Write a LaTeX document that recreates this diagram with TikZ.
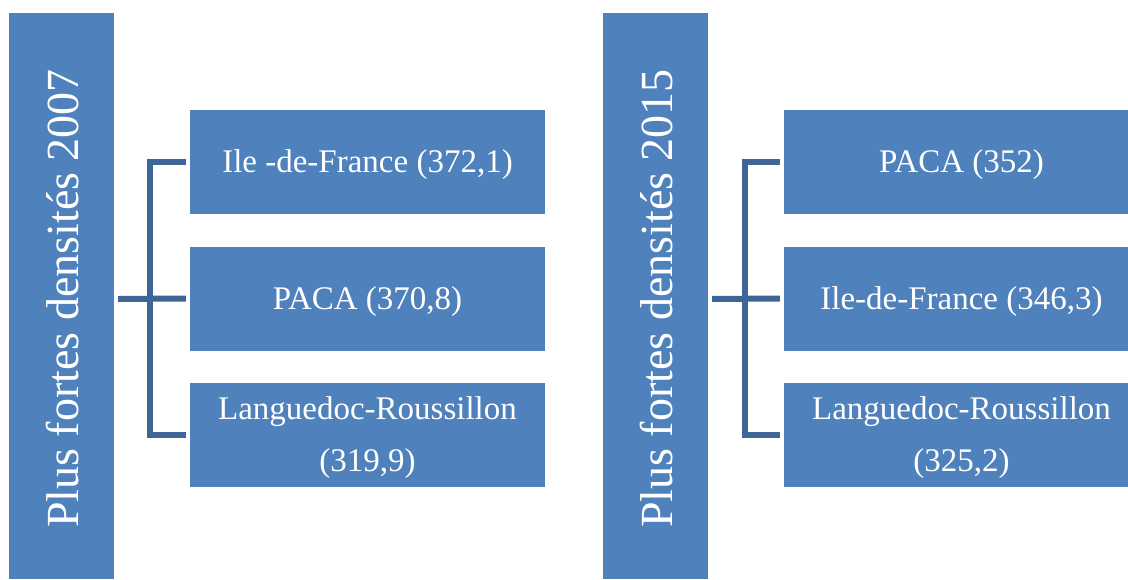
\documentclass[tikz,border=0pt]{standalone}
\usepackage{fontspec}
\setmainfont{Liberation Serif}
\definecolor{boxblue}{HTML}{4F81BD}
\definecolor{linkblue}{HTML}{3D6596}
\begin{document}
\begin{tikzpicture}[x=1pt,y=-1pt,
  tall/.style={fill=boxblue, draw=none, minimum width=105pt, minimum height=566pt, inner sep=0pt},
  talltext/.style={rotate=90, text=white, font=\fontsize{46}{50}\selectfont},
  item/.style={fill=boxblue, draw=none, minimum width=355pt, minimum height=104pt, inner sep=0pt, text=white, font=\fontsize{33}{52}\selectfont, align=center},
  itemtext/.style={text=white, font=\fontsize{33}{52}\selectfont, align=center},
  link/.style={draw=linkblue, line width=6pt}]
\useasboundingbox (0,0) rectangle (1128,579);
% left group
\node[tall] (t1) at (61.5,295.5) {};
\node[talltext] (t1txt) at ([xshift=1pt,yshift=-3pt]t1.center) {Plus fortes densités 2007};
\node[item] (a1) at (367.5,161.5) {};
\node[item] (a2) at (367.5,298.5) {};
\node[item] (a3) at (367.5,435) {};
\node[itemtext] at ([yshift=-3pt]a1.center) {Ile -de-France (372,1)};
\node[itemtext] at ([yshift=-3pt]a2.center) {PACA (370,8)};
\node[itemtext] at ([yshift=-3pt]a3.center) {Languedoc-Roussillon\\(319,9)};
\coordinate (l1) at (150,299);
\draw[link] ([xshift=4pt]t1.east |- l1) -- ([xshift=-4pt]a2.west);
\draw[link] ([xshift=-4pt]a1.west) -| (l1) |- ([xshift=-4pt]a3.west);
% right group
\node[tall] (t2) at (655.5,295.5) {};
\node[talltext] (t2txt) at ([xshift=1pt,yshift=-3pt]t2.center) {Plus fortes densités 2015};
\node[item] (b1) at (961.5,161.5) {};
\node[item] (b2) at (961.5,298.5) {};
\node[item] (b3) at (961.5,435) {};
\node[itemtext] at ([yshift=-3pt]b1.center) {PACA (352)};
\node[itemtext] at ([yshift=-3pt]b2.center) {Ile-de-France (346,3)};
\node[itemtext] at ([yshift=-3pt]b3.center) {Languedoc-Roussillon\\(325,2)};
\coordinate (l2) at (745,299);
\draw[link] ([xshift=4pt]t2.east |- l2) -- ([xshift=-4pt]b2.west);
\draw[link] ([xshift=-4pt]b1.west) -| (l2) |- ([xshift=-4pt]b3.west);
\end{tikzpicture}
\end{document}
